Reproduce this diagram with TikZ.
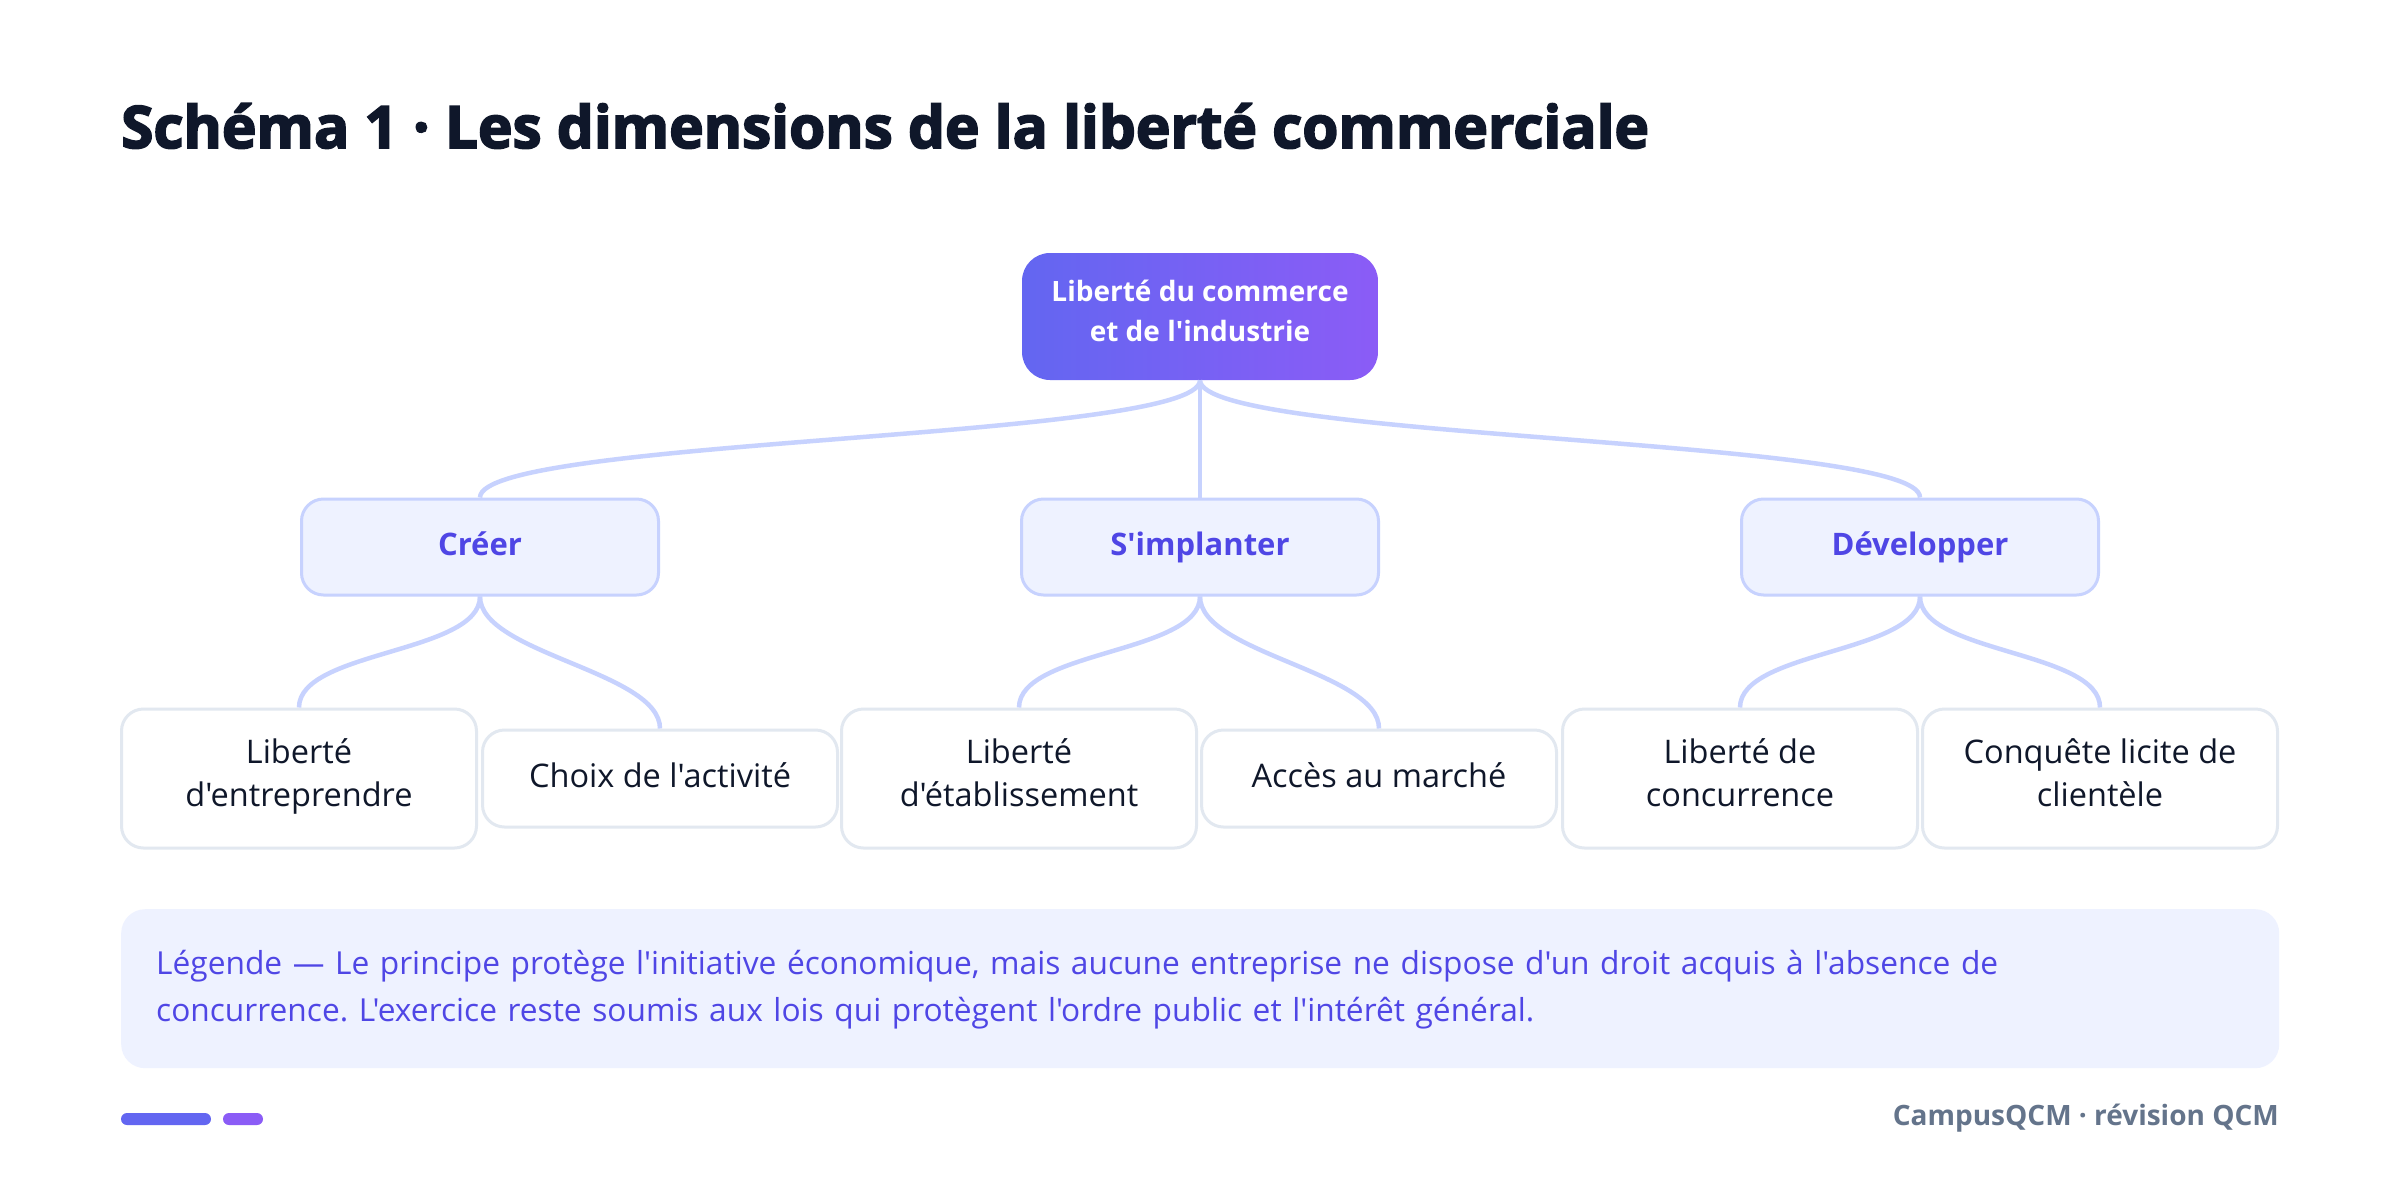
\documentclass[tikz,border=0pt]{standalone}
\usepackage{fontspec}
\setmainfont{Open Sans}[Ligatures=TeXOff]
\newfontfamily\titrefont{Open Sans}[Ligatures=TeXOff, BoldFeatures={FakeBold=3}]
\usepackage{tikz}

\definecolor{indigo}{HTML}{6366F1}
\definecolor{violet}{HTML}{8B5CF6}
\definecolor{axefond}{HTML}{EEF2FF}
\definecolor{axetrait}{HTML}{C7D2FE}
\definecolor{axetexte}{HTML}{4F46E5}
\definecolor{gristrait}{HTML}{E2E8F0}
\definecolor{encre}{HTML}{0F172A}
\definecolor{pied}{HTML}{64748B}

\begin{document}
\frenchspacing
\begin{tikzpicture}[x=1pt, y=-1pt,
		every node/.style={execute at begin node=\strut, execute at end node=\strut},
		racine/.style={rounded corners=28pt, left color=indigo, right color=violet, minimum width=356pt, minimum height=127pt, text=white, align=center, font=\bfseries\fontsize{28}{40}\selectfont},
		axe/.style={rounded corners=22pt, fill=axefond, draw=axetrait, line width=3pt, minimum width=357pt, minimum height=96pt, text=axetexte, font=\bfseries\fontsize{31}{40}\selectfont},
		feuille/.style={rounded corners=22pt, fill=white, draw=gristrait, line width=3pt, minimum width=355pt, text=encre, align=center, font=\fontsize{32.5}{43}\selectfont},
		lien/.style={draw=axetrait, line width=4.5pt}]
		\useasboundingbox[fill=white] (0,0) rectangle (2400,1178);
		\node [anchor=base west, inner sep=0pt, text=encre, font=\titrefont\bfseries\fontsize{58.5}{64}\selectfont] (titre) at (121,148) {Schéma 1 · Les dimensions de la liberté commerciale};
		% sommet
		\node [racine] (liberte) at (1200,316.5) {Liberté du commerce\\et de l'industrie};
		% les trois axes
		\node [axe] (creer) at (480,547) {Créer};
		\node [axe] (implanter) at (1200,547) {S'implanter};
		\node [axe] (developper) at (1920,547) {Développer};
		% feuilles
		\node [feuille, minimum height=139pt] (entreprendre) at (299,778.5) {Liberté\\d'entreprendre};
		\node [feuille, minimum height=97pt] (activite) at (660,778.5) {Choix de l'activité};
		\node [feuille, minimum height=139pt] (etablissement) at (1019,778.5) {Liberté\\d'établissement};
		\node [feuille, minimum height=97pt] (marche) at (1379,778.5) {Accès au marché};
		\node [feuille, minimum height=139pt] (concurrence) at (1740,778.5) {Liberté de\\concurrence};
		\node [feuille, minimum height=139pt] (clientele) at (2100,778.5) {Conquête licite de\\clientèle};
		\draw[lien] (liberte.south) .. controls +(0,60) and +(0,-60) .. (creer.north);
		\draw[lien] (liberte.south) -- (implanter.north);
		\draw[lien] (liberte.south) .. controls +(0,60) and +(0,-60) .. (developper.north);
		\foreach \a/\b/\c in {creer/entreprendre/activite, implanter/etablissement/marche, developper/concurrence/clientele} {
			\draw[lien] (\a.south) .. controls +(0,57) and +(0,-57) .. (\b.north);
			\draw[lien] (\a.south) .. controls +(0,57) and +(0,-57) .. (\c.north);
		}
		% legende
		\node [anchor=north west, rounded corners=24pt, fill=axefond, minimum width=2158pt, minimum height=159pt, inner xsep=35pt, text width=2088pt, align=left, text=axetexte, font=\fontsize{31.7}{47}\selectfont] (legende) at (121,909) {Légende — Le principe protège l'initiative économique, mais aucune entreprise ne dispose d'un droit acquis à l'absence de\\concurrence. L'exercice reste soumis aux lois qui protègent l'ordre public et l'intérêt général.};
		% pied de page
		\fill[indigo, rounded corners=6pt] (121,1113) rectangle (211,1125);
		\fill[violet, rounded corners=6pt] (223,1113) rectangle (263,1125);
		\node [anchor=east, inner sep=0pt, text=pied, font=\bfseries\fontsize{28}{30}\selectfont] (source) at (2279,1119) {CampusQCM · révision QCM};
	\end{tikzpicture}
\end{document}
